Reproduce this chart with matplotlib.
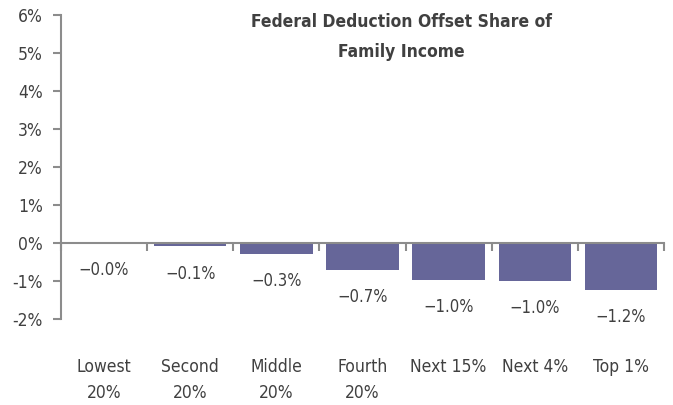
import matplotlib.pyplot as plt
from matplotlib.transforms import blended_transform_factory
import numpy as np

categories = ["Lowest\n20%", "Second\n20%", "Middle\n20%", "Fourth\n20%",
              "Next 15%", "Next 4%", "Top 1%"]
values = [-0.01, -0.09, -0.29, -0.71, -0.97, -1.0, -1.24]
value_labels = ["\u22120.0%", "\u22120.1%", "\u22120.3%", "\u22120.7%",
                "\u22121.0%", "\u22121.0%", "\u22121.2%"]
yticks = [-2, -1, 0, 1, 2, 3, 4, 5, 6]

plt.rcParams["font.family"] = ["DejaVu Sans"]
plt.rcParams["font.stretch"] = "condensed"
text_color = "#404040"
axis_color = "#8c8c8c"
bar_color = "#666699"

fig = plt.figure(figsize=(6.73, 4.05), dpi=100)
ax = fig.add_axes([0.0906, 0.2123, 0.896, 0.7507])

x = np.arange(len(categories))
ax.bar(x, values, width=0.84, color=bar_color, zorder=2)

ax.set_xlim(-0.5, len(categories) - 0.5)
ax.set_ylim(-2, 6)

# value labels below bars
for xi, v, lab in zip(x, values, value_labels):
    ax.annotate(lab, (xi, v), xytext=(0, -19.5), textcoords="offset points",
                ha="center", va="center", fontsize=12, color=text_color)

# spines
for s in ["top", "right"]:
    ax.spines[s].set_visible(False)
ax.spines["left"].set_color(axis_color)
ax.spines["left"].set_linewidth(1.5)
ax.spines["bottom"].set_position(("data", 0))
ax.spines["bottom"].set_color(axis_color)
ax.spines["bottom"].set_linewidth(1.5)

ax.set_yticks(yticks)
ax.set_yticklabels([f"{t}%" for t in yticks])
ax.tick_params(axis="y", length=6, width=1.5, color=axis_color,
               labelsize=12.5, labelcolor=text_color, pad=7)

# category boundary ticks on the zero line
ax.set_xticks(np.arange(len(categories) + 1) - 0.5)
ax.set_xticklabels([])
ax.tick_params(axis="x", length=6, width=1.5, color=axis_color, direction="out")

# category labels
trans = blended_transform_factory(ax.transData, ax.transAxes)
for xi, cat in zip(x, categories):
    ax.text(xi, -0.128, cat, transform=trans, ha="center", va="top",
            fontsize=12.5, color=text_color, linespacing=1.6)

fig.text(0.597, 0.968, "Federal Deduction Offset Share of\nFamily Income",
         ha="center", va="top", fontsize=12.5, fontweight="bold",
         color=text_color, linespacing=1.85)

plt.savefig("out.png", dpi=100)
plt.close()
